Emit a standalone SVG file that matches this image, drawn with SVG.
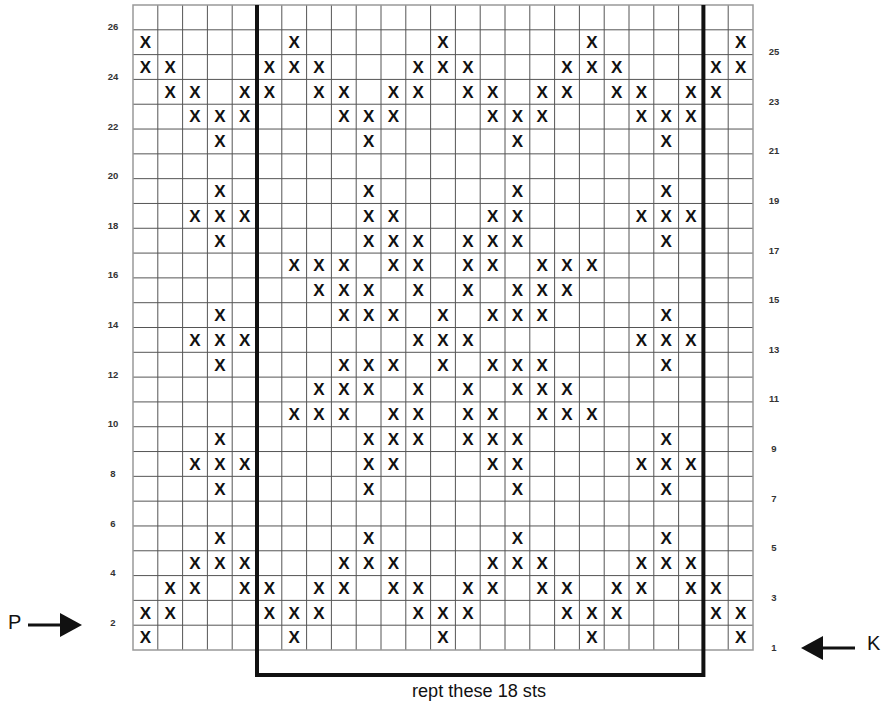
<svg xmlns="http://www.w3.org/2000/svg" width="882" height="706" viewBox="0 0 882 706">
<style>
.gl{fill:none;stroke:#555;stroke-width:1}
.gb{fill:none;stroke:#999;stroke-width:1.5}
.x{font-family:"Liberation Sans Narrow","Liberation Sans",Arial,sans-serif;font-weight:bold;font-size:17px;fill:#111;text-anchor:middle}
.rl{font-family:"Liberation Sans",Arial,sans-serif;font-weight:bold;font-size:9.5px;fill:#333;text-anchor:middle}
.big{font-family:"Liberation Sans Narrow","Liberation Sans",Arial,sans-serif;font-size:20px;fill:#111}
.cap{font-family:"Liberation Sans Narrow","Liberation Sans",Arial,sans-serif;font-size:18px;fill:#111;text-anchor:middle}
.rep{fill:none;stroke:#111;stroke-width:4;stroke-linejoin:miter}
.arr{stroke:#111;stroke-width:3;fill:none}
</style>
<defs>
<marker id="head" markerUnits="userSpaceOnUse" markerWidth="22" markerHeight="24" viewBox="0 0 22 24" refX="1" refY="12" orient="auto">
<path d="M0,0 L22,12 L0,24 Z" fill="#111"/>
</marker>
</defs>
<g id="grid">
<path class="gl" d="M157.8,5V650M182.6,5V650M207.4,5V650M232.2,5V650M281.8,5V650M306.6,5V650M331.4,5V650M356.2,5V650M381,5V650M405.8,5V650M430.6,5V650M455.4,5V650M480.2,5V650M505,5V650M529.8,5V650M554.6,5V650M579.4,5V650M604.2,5V650M629,5V650M653.8,5V650M678.6,5V650M728.2,5V650"/>
<path class="gl" d="M133,29.81H753M133,54.62H753M133,79.42H753M133,104.23H753M133,129.04H753M133,153.85H753M133,178.65H753M133,203.46H753M133,228.27H753M133,253.08H753M133,277.88H753M133,302.69H753M133,327.5H753M133,352.31H753M133,377.12H753M133,401.92H753M133,426.73H753M133,451.54H753M133,476.35H753M133,501.15H753M133,525.96H753M133,550.77H753M133,575.58H753M133,600.38H753M133,625.19H753"/>
<rect class="gb" x="133" y="5" width="620" height="645"/>
</g>
<g id="stitches">
<g id="row1"><text class="x" x="145.4" y="643.4">X</text><text class="x" x="294.2" y="643.4">X</text><text class="x" x="443" y="643.4">X</text><text class="x" x="591.8" y="643.4">X</text><text class="x" x="740.6" y="643.4">X</text></g>
<g id="row2"><text class="x" x="145.4" y="618.6">X</text><text class="x" x="170.2" y="618.6">X</text><text class="x" x="269.4" y="618.6">X</text><text class="x" x="294.2" y="618.6">X</text><text class="x" x="319" y="618.6">X</text><text class="x" x="418.2" y="618.6">X</text><text class="x" x="443" y="618.6">X</text><text class="x" x="467.8" y="618.6">X</text><text class="x" x="567" y="618.6">X</text><text class="x" x="591.8" y="618.6">X</text><text class="x" x="616.6" y="618.6">X</text><text class="x" x="715.8" y="618.6">X</text><text class="x" x="740.6" y="618.6">X</text></g>
<g id="row3"><text class="x" x="170.2" y="593.8">X</text><text class="x" x="195" y="593.8">X</text><text class="x" x="244.6" y="593.8">X</text><text class="x" x="269.4" y="593.8">X</text><text class="x" x="319" y="593.8">X</text><text class="x" x="343.8" y="593.8">X</text><text class="x" x="393.4" y="593.8">X</text><text class="x" x="418.2" y="593.8">X</text><text class="x" x="467.8" y="593.8">X</text><text class="x" x="492.6" y="593.8">X</text><text class="x" x="542.2" y="593.8">X</text><text class="x" x="567" y="593.8">X</text><text class="x" x="616.6" y="593.8">X</text><text class="x" x="641.4" y="593.8">X</text><text class="x" x="691" y="593.8">X</text><text class="x" x="715.8" y="593.8">X</text></g>
<g id="row4"><text class="x" x="195" y="569">X</text><text class="x" x="219.8" y="569">X</text><text class="x" x="244.6" y="569">X</text><text class="x" x="343.8" y="569">X</text><text class="x" x="368.6" y="569">X</text><text class="x" x="393.4" y="569">X</text><text class="x" x="492.6" y="569">X</text><text class="x" x="517.4" y="569">X</text><text class="x" x="542.2" y="569">X</text><text class="x" x="641.4" y="569">X</text><text class="x" x="666.2" y="569">X</text><text class="x" x="691" y="569">X</text></g>
<g id="row5"><text class="x" x="219.8" y="544.2">X</text><text class="x" x="368.6" y="544.2">X</text><text class="x" x="517.4" y="544.2">X</text><text class="x" x="666.2" y="544.2">X</text></g>
<g id="row7"><text class="x" x="219.8" y="494.6">X</text><text class="x" x="368.6" y="494.6">X</text><text class="x" x="517.4" y="494.6">X</text><text class="x" x="666.2" y="494.6">X</text></g>
<g id="row8"><text class="x" x="195" y="469.7">X</text><text class="x" x="219.8" y="469.7">X</text><text class="x" x="244.6" y="469.7">X</text><text class="x" x="368.6" y="469.7">X</text><text class="x" x="393.4" y="469.7">X</text><text class="x" x="492.6" y="469.7">X</text><text class="x" x="517.4" y="469.7">X</text><text class="x" x="641.4" y="469.7">X</text><text class="x" x="666.2" y="469.7">X</text><text class="x" x="691" y="469.7">X</text></g>
<g id="row9"><text class="x" x="219.8" y="444.9">X</text><text class="x" x="368.6" y="444.9">X</text><text class="x" x="393.4" y="444.9">X</text><text class="x" x="418.2" y="444.9">X</text><text class="x" x="467.8" y="444.9">X</text><text class="x" x="492.6" y="444.9">X</text><text class="x" x="517.4" y="444.9">X</text><text class="x" x="666.2" y="444.9">X</text></g>
<g id="row10"><text class="x" x="294.2" y="420.1">X</text><text class="x" x="319" y="420.1">X</text><text class="x" x="343.8" y="420.1">X</text><text class="x" x="393.4" y="420.1">X</text><text class="x" x="418.2" y="420.1">X</text><text class="x" x="467.8" y="420.1">X</text><text class="x" x="492.6" y="420.1">X</text><text class="x" x="542.2" y="420.1">X</text><text class="x" x="567" y="420.1">X</text><text class="x" x="591.8" y="420.1">X</text></g>
<g id="row11"><text class="x" x="319" y="395.3">X</text><text class="x" x="343.8" y="395.3">X</text><text class="x" x="368.6" y="395.3">X</text><text class="x" x="418.2" y="395.3">X</text><text class="x" x="467.8" y="395.3">X</text><text class="x" x="517.4" y="395.3">X</text><text class="x" x="542.2" y="395.3">X</text><text class="x" x="567" y="395.3">X</text></g>
<g id="row12"><text class="x" x="219.8" y="370.5">X</text><text class="x" x="343.8" y="370.5">X</text><text class="x" x="368.6" y="370.5">X</text><text class="x" x="393.4" y="370.5">X</text><text class="x" x="443" y="370.5">X</text><text class="x" x="492.6" y="370.5">X</text><text class="x" x="517.4" y="370.5">X</text><text class="x" x="542.2" y="370.5">X</text><text class="x" x="666.2" y="370.5">X</text></g>
<g id="row13"><text class="x" x="195" y="345.7">X</text><text class="x" x="219.8" y="345.7">X</text><text class="x" x="244.6" y="345.7">X</text><text class="x" x="418.2" y="345.7">X</text><text class="x" x="443" y="345.7">X</text><text class="x" x="467.8" y="345.7">X</text><text class="x" x="641.4" y="345.7">X</text><text class="x" x="666.2" y="345.7">X</text><text class="x" x="691" y="345.7">X</text></g>
<g id="row14"><text class="x" x="219.8" y="320.9">X</text><text class="x" x="343.8" y="320.9">X</text><text class="x" x="368.6" y="320.9">X</text><text class="x" x="393.4" y="320.9">X</text><text class="x" x="443" y="320.9">X</text><text class="x" x="492.6" y="320.9">X</text><text class="x" x="517.4" y="320.9">X</text><text class="x" x="542.2" y="320.9">X</text><text class="x" x="666.2" y="320.9">X</text></g>
<g id="row15"><text class="x" x="319" y="296.1">X</text><text class="x" x="343.8" y="296.1">X</text><text class="x" x="368.6" y="296.1">X</text><text class="x" x="418.2" y="296.1">X</text><text class="x" x="467.8" y="296.1">X</text><text class="x" x="517.4" y="296.1">X</text><text class="x" x="542.2" y="296.1">X</text><text class="x" x="567" y="296.1">X</text></g>
<g id="row16"><text class="x" x="294.2" y="271.3">X</text><text class="x" x="319" y="271.3">X</text><text class="x" x="343.8" y="271.3">X</text><text class="x" x="393.4" y="271.3">X</text><text class="x" x="418.2" y="271.3">X</text><text class="x" x="467.8" y="271.3">X</text><text class="x" x="492.6" y="271.3">X</text><text class="x" x="542.2" y="271.3">X</text><text class="x" x="567" y="271.3">X</text><text class="x" x="591.8" y="271.3">X</text></g>
<g id="row17"><text class="x" x="219.8" y="246.5">X</text><text class="x" x="368.6" y="246.5">X</text><text class="x" x="393.4" y="246.5">X</text><text class="x" x="418.2" y="246.5">X</text><text class="x" x="467.8" y="246.5">X</text><text class="x" x="492.6" y="246.5">X</text><text class="x" x="517.4" y="246.5">X</text><text class="x" x="666.2" y="246.5">X</text></g>
<g id="row18"><text class="x" x="195" y="221.7">X</text><text class="x" x="219.8" y="221.7">X</text><text class="x" x="244.6" y="221.7">X</text><text class="x" x="368.6" y="221.7">X</text><text class="x" x="393.4" y="221.7">X</text><text class="x" x="492.6" y="221.7">X</text><text class="x" x="517.4" y="221.7">X</text><text class="x" x="641.4" y="221.7">X</text><text class="x" x="666.2" y="221.7">X</text><text class="x" x="691" y="221.7">X</text></g>
<g id="row19"><text class="x" x="219.8" y="196.9">X</text><text class="x" x="368.6" y="196.9">X</text><text class="x" x="517.4" y="196.9">X</text><text class="x" x="666.2" y="196.9">X</text></g>
<g id="row21"><text class="x" x="219.8" y="147.2">X</text><text class="x" x="368.6" y="147.2">X</text><text class="x" x="517.4" y="147.2">X</text><text class="x" x="666.2" y="147.2">X</text></g>
<g id="row22"><text class="x" x="195" y="122.4">X</text><text class="x" x="219.8" y="122.4">X</text><text class="x" x="244.6" y="122.4">X</text><text class="x" x="343.8" y="122.4">X</text><text class="x" x="368.6" y="122.4">X</text><text class="x" x="393.4" y="122.4">X</text><text class="x" x="492.6" y="122.4">X</text><text class="x" x="517.4" y="122.4">X</text><text class="x" x="542.2" y="122.4">X</text><text class="x" x="641.4" y="122.4">X</text><text class="x" x="666.2" y="122.4">X</text><text class="x" x="691" y="122.4">X</text></g>
<g id="row23"><text class="x" x="170.2" y="97.6">X</text><text class="x" x="195" y="97.6">X</text><text class="x" x="244.6" y="97.6">X</text><text class="x" x="269.4" y="97.6">X</text><text class="x" x="319" y="97.6">X</text><text class="x" x="343.8" y="97.6">X</text><text class="x" x="393.4" y="97.6">X</text><text class="x" x="418.2" y="97.6">X</text><text class="x" x="467.8" y="97.6">X</text><text class="x" x="492.6" y="97.6">X</text><text class="x" x="542.2" y="97.6">X</text><text class="x" x="567" y="97.6">X</text><text class="x" x="616.6" y="97.6">X</text><text class="x" x="641.4" y="97.6">X</text><text class="x" x="691" y="97.6">X</text><text class="x" x="715.8" y="97.6">X</text></g>
<g id="row24"><text class="x" x="145.4" y="72.8">X</text><text class="x" x="170.2" y="72.8">X</text><text class="x" x="269.4" y="72.8">X</text><text class="x" x="294.2" y="72.8">X</text><text class="x" x="319" y="72.8">X</text><text class="x" x="418.2" y="72.8">X</text><text class="x" x="443" y="72.8">X</text><text class="x" x="467.8" y="72.8">X</text><text class="x" x="567" y="72.8">X</text><text class="x" x="591.8" y="72.8">X</text><text class="x" x="616.6" y="72.8">X</text><text class="x" x="715.8" y="72.8">X</text><text class="x" x="740.6" y="72.8">X</text></g>
<g id="row25"><text class="x" x="145.4" y="48">X</text><text class="x" x="294.2" y="48">X</text><text class="x" x="443" y="48">X</text><text class="x" x="591.8" y="48">X</text><text class="x" x="740.6" y="48">X</text></g>
</g>
<g id="row-numbers-left">
<text class="rl" x="113" y="30.3">26</text><text class="rl" x="113" y="79.9">24</text><text class="rl" x="113" y="129.5">22</text><text class="rl" x="113" y="179.2">20</text><text class="rl" x="113" y="228.8">18</text><text class="rl" x="113" y="278.4">16</text><text class="rl" x="113" y="328">14</text><text class="rl" x="113" y="377.6">12</text><text class="rl" x="113" y="427.2">10</text><text class="rl" x="113" y="476.8">8</text><text class="rl" x="113" y="526.5">6</text><text class="rl" x="113" y="576.1">4</text><text class="rl" x="113" y="625.7">2</text>
</g>
<g id="row-numbers-right">
<text class="rl" x="774" y="55.1">25</text><text class="rl" x="774" y="104.7">23</text><text class="rl" x="774" y="154.3">21</text><text class="rl" x="774" y="204">19</text><text class="rl" x="774" y="253.6">17</text><text class="rl" x="774" y="303.2">15</text><text class="rl" x="774" y="352.8">13</text><text class="rl" x="774" y="402.4">11</text><text class="rl" x="774" y="452">9</text><text class="rl" x="774" y="501.7">7</text><text class="rl" x="774" y="551.3">5</text><text class="rl" x="774" y="600.9">3</text><text class="rl" x="774" y="650.5">1</text>
</g>
<g id="repeat">
<path class="rep" d="M257,5V675H703.4V5"/>
<text class="cap" x="479" y="697" textLength="134" lengthAdjust="spacingAndGlyphs">rept these 18 sts</text>
</g>
<g id="connectors">
<line class="arr" x1="28" y1="625" x2="61" y2="625" marker-end="url(#head)"/>
<line class="arr" x1="855" y1="648" x2="822" y2="648" marker-end="url(#head)"/>
</g>
<g id="label-P"><text class="big" x="8" y="628.5">P</text></g>
<g id="label-K"><text class="big" x="867" y="649.5">K</text></g>
</svg>
